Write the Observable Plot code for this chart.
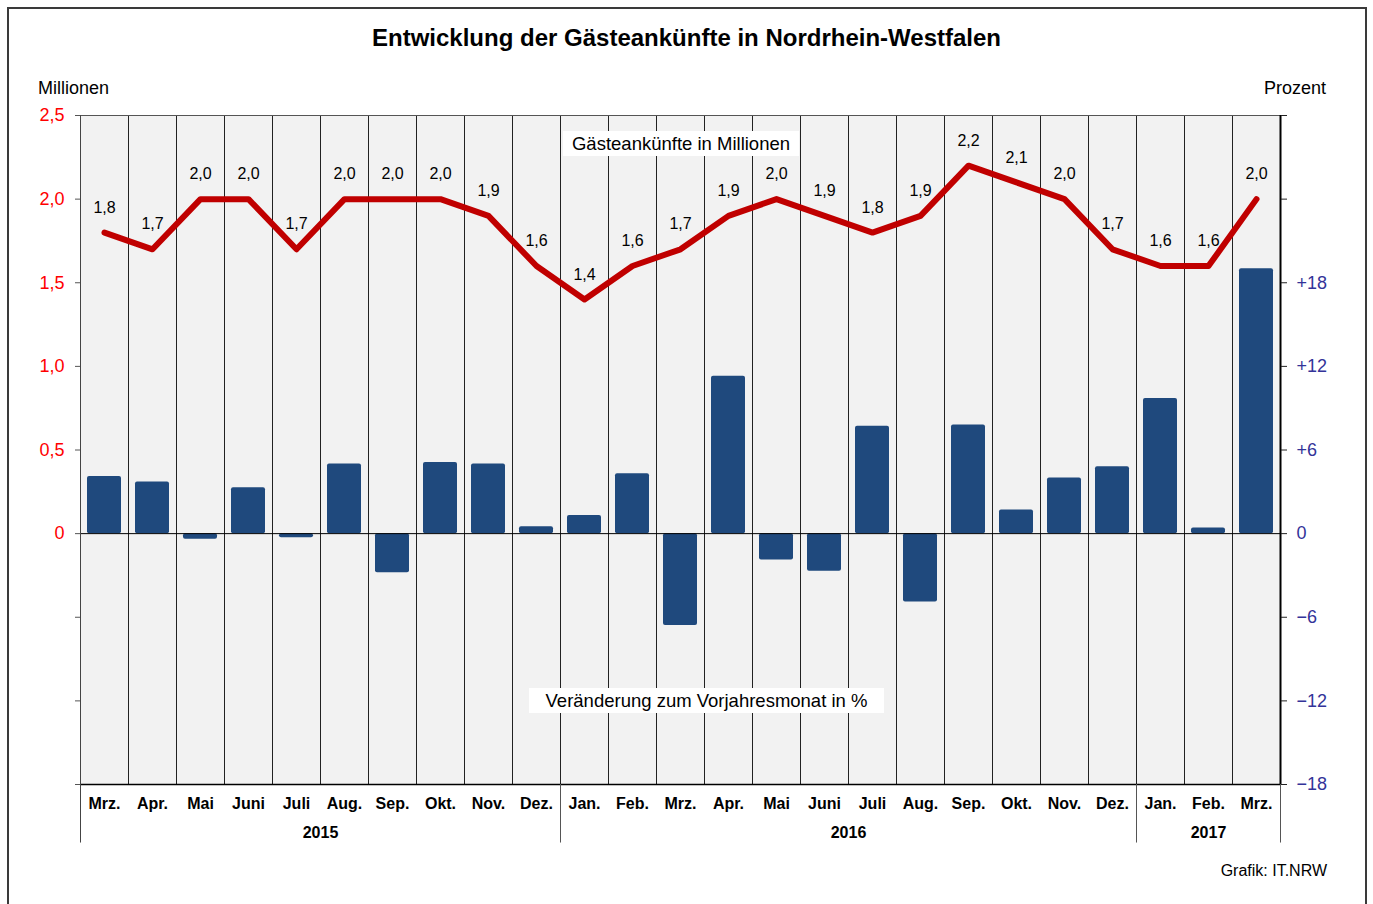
<!DOCTYPE html>
<html><head><meta charset="utf-8">
<script src="https://cdn.jsdelivr.net/npm/d3@7"></script>
<script src="https://cdn.jsdelivr.net/npm/@observablehq/plot@0.6"></script>
<style>
html,body{margin:0;padding:0;background:#fff;}
#wrap{position:relative;width:1373px;height:904px;overflow:hidden;font-family:"Liberation Sans",Arial,sans-serif;color:#000;}
#border{position:absolute;left:7px;top:7px;width:1360px;height:960px;border:2px solid #3a3a3a;box-sizing:border-box;}
.t{position:absolute;line-height:1;white-space:nowrap;transform:translateY(-50%);}
#title{left:0;width:1373px;text-align:center;top:38px;font-size:24px;font-weight:bold;}
#mil{left:38px;top:88px;font-size:18px;}
#proz{right:47px;top:88px;font-size:18px;}
#src{right:46px;top:871px;font-size:16px;}
.box{position:absolute;background:#fff;font-size:18.5px;display:flex;align-items:center;justify-content:center;white-space:nowrap;}
#leg1{left:563px;top:131px;width:236px;height:25px;}
#leg2{left:529px;top:688px;width:355px;height:25px;}
#chart{position:absolute;left:0;top:0;}
</style>
</head><body>
<div id="wrap">
  <div id="border"></div>
  <div id="chart"></div>
  <div class="t" id="title">Entwicklung der Gästeankünfte in Nordrhein-Westfalen</div>
  <div class="t" id="mil">Millionen</div>
  <div class="t" id="proz">Prozent</div>
  <div class="box" id="leg1">Gästeankünfte in Millionen</div>
  <div class="box" id="leg2">Veränderung zum Vorjahresmonat in %</div>
  <div class="t" id="src">Grafik: IT.NRW</div>
</div>
<script>
const months = ["Mrz.","Apr.","Mai","Juni","Juli","Aug.","Sep.","Okt.","Nov.","Dez.",
  "Jan.","Feb.","Mrz.","Apr.","Mai","Juni","Juli","Aug.","Sep.","Okt.","Nov.","Dez.",
  "Jan.","Feb.","Mrz."];
const years = [2015,2015,2015,2015,2015,2015,2015,2015,2015,2015,
  2016,2016,2016,2016,2016,2016,2016,2016,2016,2016,2016,2016,
  2017,2017,2017];
// Gästeankünfte in Millionen
const arrivals = [1.8,1.7,2.0,2.0,1.7,2.0,2.0,2.0,1.9,1.6,
  1.4,1.6,1.7,1.9,2.0,1.9,1.8,1.9,2.2,2.1,2.0,1.7,
  1.6,1.6,2.0];
// Veränderung zum Vorjahresmonat in %
const change = [4.1,3.7,-0.4,3.3,-0.3,5.0,-2.8,5.1,5.0,0.5,
  1.3,4.3,-6.6,11.3,-1.9,-2.7,7.7,-4.9,7.8,1.7,4.0,4.8,
  9.7,0.4,19.0];
const leftTickMillions = [0,0.5,1.0,1.5,2.0,2.5];
const rightTickPercent = [-18,-12,-6,0,6,12,18];

const PCT_PER_MILLION = 12; // 0,5 Mio. ↔ 6 %
const rows = months.map((m,i)=>({i, month:m, year:years[i], arrivals:arrivals[i], change:change[i]}));
const yearGroups = d3.groups(rows, d=>d.year).map(([y,g])=>({year:y, start:g[0].i, end:g[g.length-1].i+1}));
const yearEnds = yearGroups.map(g=>g.end);
const fmt = v => v.toFixed(1).replace(".", ",");

const tickVals = Array.from(new Set([...rightTickPercent, ...leftTickMillions.map(v=>v*PCT_PER_MILLION)])).sort((a,b)=>a-b);
const leftFmt = v => v < 0 ? "" : v === 0 ? "0" : fmt(v / PCT_PER_MILLION);
const rightFmt = v => rightTickPercent.includes(v) ? (v > 0 ? "+" + v : v < 0 ? "\u2212" + (-v) : "0") : "";

const below = -22.2;
const chart = Plot.plot({
  width: 1373, height: 904,
  marginLeft: 80, marginRight: 93, marginTop: 115, marginBottom: 120,
  style: {fontFamily: '"Liberation Sans", Arial, sans-serif', fontSize: "16px", background: "transparent", color: "#000", overflow: "visible"},
  x: {type: "linear", domain: [0, months.length], axis: null},
  y: {domain: [-18, 30], axis: null},
  marks: [
    Plot.frame({fill: "#f2f2f2"}),
    Plot.ruleX(d3.range(1, months.length), {y1: -18, y2: 30, stroke: "#222", strokeWidth: 1}),
    Plot.ruleY([30], {stroke: "#555"}),
    Plot.rect(rows, {x1: "i", x2: d => d.i + 1, y1: 0, y2: "change", fill: "#1f497d", insetLeft: 7, insetRight: 7, rx: 2}),
    Plot.ruleY([0], {stroke: "#000"}),
    Plot.ruleY([-18], {stroke: "#000", strokeWidth: 1.5}),
    Plot.ruleX([0], {y1: below, y2: 30, stroke: "#444"}),
    Plot.ruleX([months.length], {y1: -18, y2: 30, stroke: "#000", strokeWidth: 2}),
    Plot.ruleX(yearEnds, {y1: below, y2: -18, stroke: "#555"}),
    Plot.axisY({ticks: tickVals, anchor: "left", tickSize: 5, tickPadding: 11, tickFormat: leftFmt, fill: "#ff0000", stroke: "#555", fontSize: 18, label: null}),
    Plot.axisY({ticks: tickVals, anchor: "right", tickSize: 6, tickPadding: 10, tickFormat: rightFmt, fill: "#333399", stroke: "#222", fontSize: 18, label: null}),
    Plot.line(rows, {x: d => d.i + 0.5, y: d => d.arrivals * PCT_PER_MILLION, stroke: "#c00000", strokeWidth: 6, strokeLinejoin: "round", strokeLinecap: "round"}),
    Plot.text(rows, {x: d => d.i + 0.5, y: d => d.arrivals * PCT_PER_MILLION, text: d => fmt(d.arrivals), dy: -25, fontSize: 16, fill: "#000"}),
    Plot.text(rows, {x: d => d.i + 0.5, text: "month", frameAnchor: "bottom", dy: 24, fontSize: 16, fontWeight: "bold", fill: "#000"}),
    Plot.text(yearGroups, {x: d => (d.start + d.end) / 2, text: d => String(d.year), frameAnchor: "bottom", dy: 53, fontSize: 16, fontWeight: "bold", fill: "#000"})
  ]
});
document.getElementById("chart").appendChild(chart);
</script>
</body></html>
